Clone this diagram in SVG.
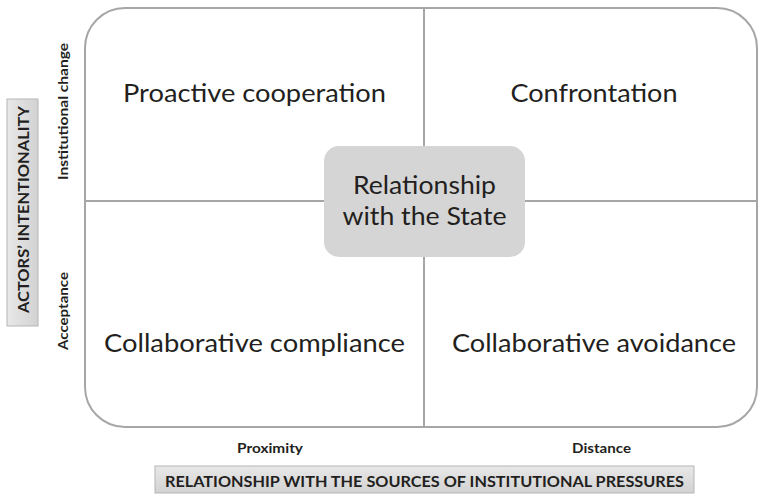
<svg xmlns="http://www.w3.org/2000/svg" width="758" height="495" viewBox="0 0 758 495">
  <defs>
    <linearGradient id="barV" x1="0" y1="0" x2="0" y2="1">
      <stop offset="0" stop-color="#e8e8e8"/>
      <stop offset="1" stop-color="#d2d2d2"/>
    </linearGradient>
    <linearGradient id="barH" x1="0" y1="0" x2="1" y2="0">
      <stop offset="0" stop-color="#e8e8e8"/>
      <stop offset="1" stop-color="#d2d2d2"/>
    </linearGradient>
  </defs>
  <style>
    .frame { fill: #ffffff; stroke: #a6a6a6; stroke-width: 2; }
    .divider { stroke: #a6a6a6; stroke-width: 2; fill: none; }
    .quad { font-family: Lato, "Open Sans", "Liberation Sans", sans-serif; font-size: 25.5px; fill: #231f20; text-anchor: middle; }
    .axis { font-family: Lato, "Open Sans", "Liberation Sans", sans-serif; font-weight: bold; font-size: 14px; fill: #231f20; text-anchor: middle; }
    .title { font-family: Lato, "Open Sans", "Liberation Sans", sans-serif; font-weight: bold; font-size: 15.5px; fill: #231f20; text-anchor: middle; }
    .bar { stroke: #b5b5b5; stroke-width: 1; }
    .hub { fill: #d5d5d5; }
  </style>

  <!-- outer matrix frame -->
  <rect id="frame" class="frame" x="85" y="8" width="672" height="419" rx="40" ry="40"/>

  <!-- quadrant dividers running into the central hub -->
  <g id="connectors">
    <line class="divider" x1="424" y1="8" x2="424" y2="146"/>
    <line class="divider" x1="424" y1="257" x2="424" y2="427"/>
    <line class="divider" x1="85" y1="201" x2="324" y2="201"/>
    <line class="divider" x1="525" y1="201" x2="757" y2="201"/>
  </g>

  <g id="proactive-cooperation">
    <text class="quad" x="254.5" y="102" textLength="263" lengthAdjust="spacingAndGlyphs">Proactive cooperation</text>
  </g>
  <g id="confrontation">
    <text class="quad" x="594" y="102" textLength="167" lengthAdjust="spacingAndGlyphs">Confrontation</text>
  </g>
  <g id="collaborative-compliance">
    <text class="quad" x="254.5" y="352" textLength="301" lengthAdjust="spacingAndGlyphs">Collaborative compliance</text>
  </g>
  <g id="collaborative-avoidance">
    <text class="quad" x="594" y="352" textLength="284" lengthAdjust="spacingAndGlyphs">Collaborative avoidance</text>
  </g>

  <g id="relationship-state">
    <rect class="hub" x="324" y="146" width="201" height="111" rx="15" ry="15"/>
    <text class="quad" x="424.5" y="194" textLength="143" lengthAdjust="spacingAndGlyphs">Relationship</text>
    <text class="quad" x="424.5" y="225" textLength="164" lengthAdjust="spacingAndGlyphs">with the State</text>
  </g>

  <!-- vertical axis -->
  <g id="actors-intentionality">
    <rect class="bar" x="7" y="99" width="31" height="227" fill="url(#barH)"/>
    <text class="title" transform="translate(28.5 209.5) rotate(-90)" textLength="207" lengthAdjust="spacingAndGlyphs">ACTORS’ INTENTIONALITY</text>
  </g>
  <g id="institutional-change">
    <text class="axis" transform="translate(68 111.5) rotate(-90)" textLength="137" lengthAdjust="spacingAndGlyphs">Institutional change</text>
  </g>
  <g id="acceptance">
    <text class="axis" transform="translate(68 311) rotate(-90)" textLength="78" lengthAdjust="spacingAndGlyphs">Acceptance</text>
  </g>

  <!-- horizontal axis -->
  <g id="proximity">
    <text class="axis" x="270" y="453" textLength="66" lengthAdjust="spacingAndGlyphs">Proximity</text>
  </g>
  <g id="distance">
    <text class="axis" x="601.5" y="453" textLength="59" lengthAdjust="spacingAndGlyphs">Distance</text>
  </g>
  <g id="institutional-pressures">
    <rect class="bar" x="155" y="466" width="539" height="27" fill="url(#barV)"/>
    <text class="title" x="424.5" y="487" textLength="519" lengthAdjust="spacingAndGlyphs">RELATIONSHIP WITH THE SOURCES OF INSTITUTIONAL PRESSURES</text>
  </g>
</svg>
